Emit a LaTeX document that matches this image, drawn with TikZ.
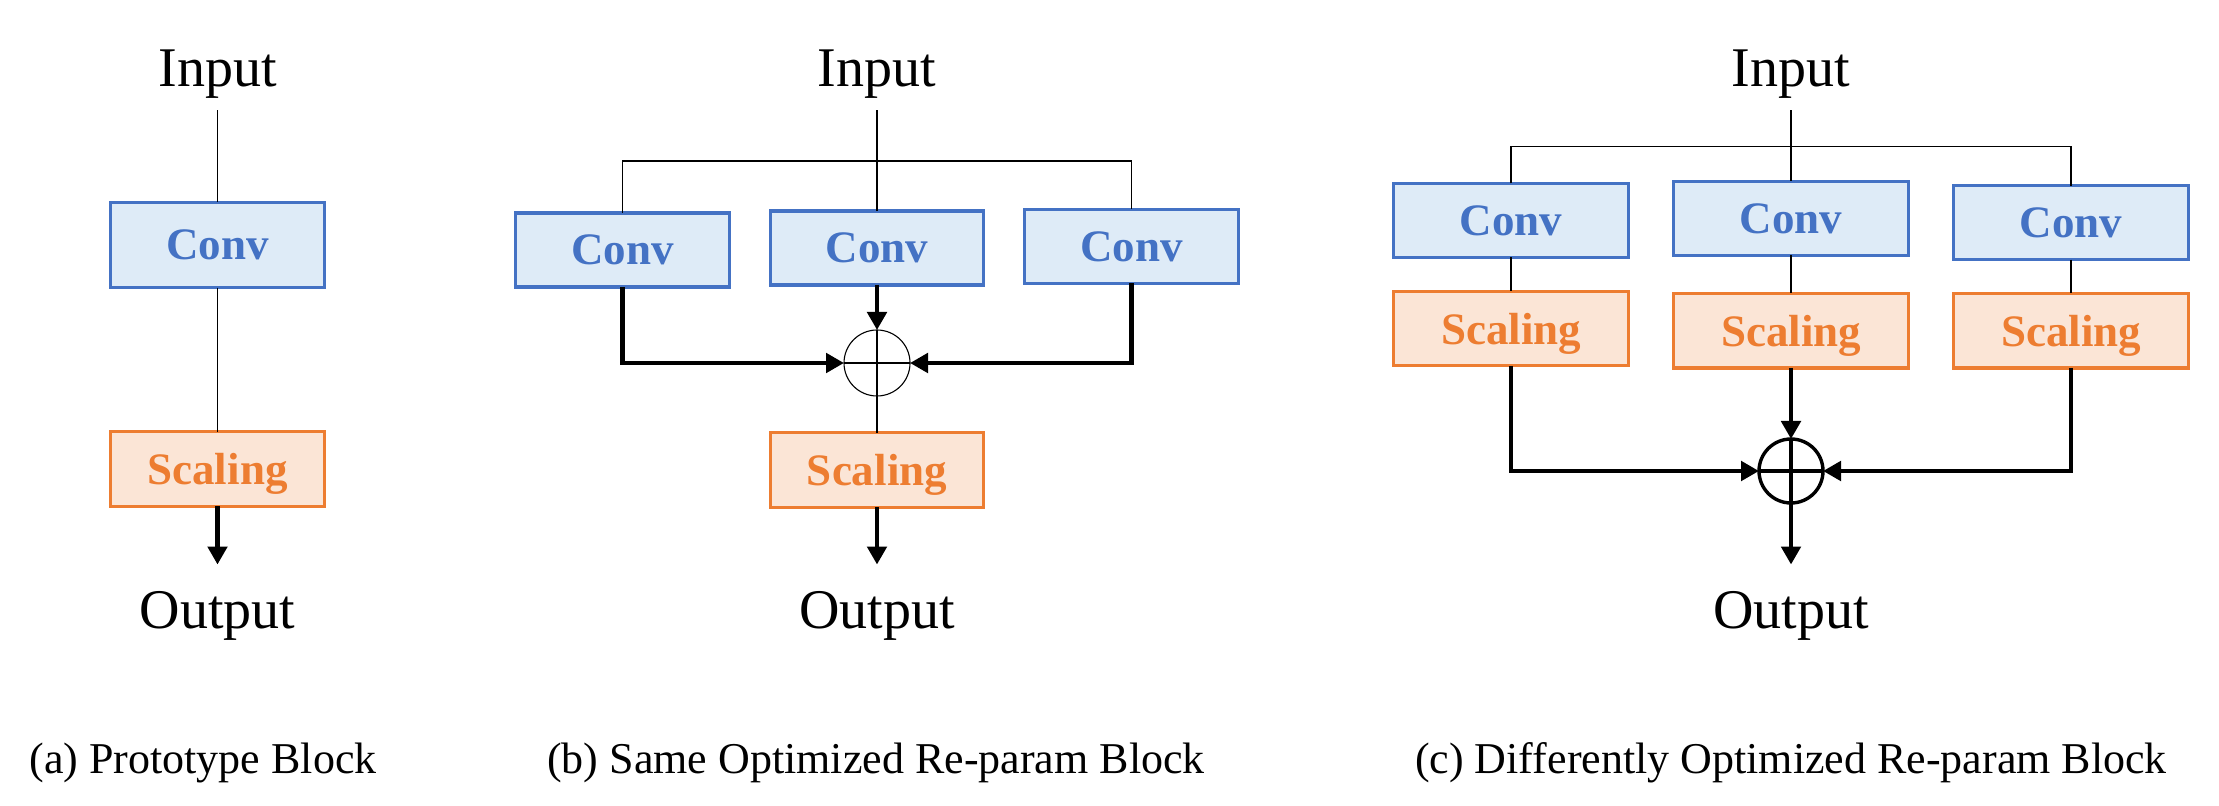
\documentclass[tikz,border=0pt]{standalone}
\usepackage{fontspec}
\setmainfont{Liberation Serif}
\usetikzlibrary{arrows.meta}
\definecolor{cblue}{HTML}{4472C4}
\definecolor{cbluefill}{HTML}{DEEBF7}
\definecolor{corange}{HTML}{ED7D31}
\definecolor{corangefill}{HTML}{FBE5D6}
\begin{document}
\begin{tikzpicture}[x=0.5pt,y=-0.5pt,
  convbox/.style={draw=cblue, fill=cbluefill, line width=1.65pt, text=cblue,
    font=\bfseries\fontsize{22.5}{24}\selectfont, inner sep=0pt, outer sep=0pt, text depth=0pt},
  scalebox/.style={draw=corange, fill=corangefill, line width=1.65pt, text=corange,
    font=\bfseries\fontsize{22.5}{24}\selectfont, inner sep=0pt, outer sep=0pt, text depth=0pt},
  instyle/.style={font=\fontsize{28}{30}\selectfont, inner xsep=0pt, inner ysep=5.5pt, anchor=base},
  outstyle/.style={font=\fontsize{28}{30}\selectfont, inner xsep=0pt, inner ysep=13pt, anchor=base},
  capstyle/.style={font=\fontsize{22}{24}\selectfont, inner sep=0pt, anchor=base},
  sumthin/.style={circle, draw, line width=0.55pt, minimum size=33pt, inner sep=0pt, outer sep=0pt},
  sumthick/.style={circle, draw, line width=1.7pt, minimum size=32pt, inner sep=0pt, outer sep=0pt},
  thinline/.style={draw, line width=0.55pt},
  thickline/.style={draw, line width=2.2pt},
  thickarrow/.style={draw, line width=2.2pt, -{Triangle[length=9pt,width=9.6pt]}},
]
\useasboundingbox (0,0) rectangle (2219,806);

% ---------- (a) ----------
\node[instyle] (ina) at (217.5,87) {Input};
\node[convbox, minimum width=106.8pt, minimum height=42.6pt] (ca) at (217.5,245) {Conv};
\node[scalebox, minimum width=106.8pt, minimum height=37.3pt] (sa) at (217.5,469) {Scaling};
\node[outstyle] (outa) at (217.5,628) {Output};
\node[capstyle] (capa) at (203,773) {(a) Prototype Block};
\draw[thinline] (ina.south) -- (ca.north);
\draw[thinline] (ca.south) -- (sa.north);
\draw[thickarrow] (sa.south) -- (outa.north);

% ---------- (b) ----------
\node[instyle] (inb) at (877,87) {Input};
\node[convbox, minimum width=106.8pt, minimum height=37pt] (cbl) at (622.5,250) {Conv};
\node[convbox, minimum width=106.8pt, minimum height=37pt] (cbm) at (877,248) {Conv};
\node[convbox, minimum width=106.8pt, minimum height=37pt] (cbr) at (1131.5,246.5) {Conv};
\node[sumthin] (sumb) at (877,363) {};
\node[scalebox, minimum width=106.8pt, minimum height=37.3pt] (sb) at (877,470) {Scaling};
\node[outstyle] (outb) at (877,628) {Output};
\node[capstyle] (capb) at (876,773) {(b) Same Optimized Re-param Block};
\coordinate (busb) at (877,161);
\draw[thinline] (inb.south) -- (cbm.north);
\draw[thinline] (cbl.north) |- (busb) -| (cbr.north);
\draw[thinline] (sumb.north) -- (sumb.south);
\draw[thinline] (sumb.west) -- (sumb.east);
\draw[thickarrow] (cbl.south) |- (sumb.west);
\draw[thickarrow] (cbm.south) -- (sumb.north);
\draw[thickarrow] (cbr.south) |- (sumb.east);
\draw[thinline] (sumb.south) -- (sb.north);
\draw[thickarrow] (sb.south) -- (outb.north);

% ---------- (c) ----------
\node[instyle] (inc) at (1791,87) {Input};
\node[convbox, minimum width=117.4pt, minimum height=37pt] (ccl) at (1511,220.5) {Conv};
\node[convbox, minimum width=117.4pt, minimum height=37pt] (ccm) at (1791,218.5) {Conv};
\node[convbox, minimum width=117.4pt, minimum height=37pt] (ccr) at (2071,222.6) {Conv};
\node[scalebox, minimum width=117.4pt, minimum height=37.3pt] (scl) at (1511,328.5) {Scaling};
\node[scalebox, minimum width=117.4pt, minimum height=37.3pt] (scm) at (1791,330.6) {Scaling};
\node[scalebox, minimum width=117.4pt, minimum height=37.3pt] (scr) at (2071,330.6) {Scaling};
\node[sumthick] (sumc) at (1791,471) {};
\node[outstyle] (outc) at (1791,628) {Output};
\node[capstyle] (capc) at (1791,773) {(c) Differently Optimized Re-param Block};
\coordinate (busc) at (1791,146.5);
\draw[thinline] (inc.south) -- (ccm.north);
\draw[thinline] (ccl.north) |- (busc) -| (ccr.north);
\draw[thinline] (ccl.south) -- (scl.north);
\draw[thinline] (ccm.south) -- (scm.north);
\draw[thinline] (ccr.south) -- (scr.north);
\draw[thickline] (sumc.north) -- (sumc.south);
\draw[thickline] (sumc.west) -- (sumc.east);
\draw[thickarrow] (scl.south) |- (sumc.west);
\draw[thickarrow] (scm.south) -- (sumc.north);
\draw[thickarrow] (scr.south) |- (sumc.east);
\draw[thickarrow] (sumc.south) -- (outc.north);
\end{tikzpicture}
\end{document}
